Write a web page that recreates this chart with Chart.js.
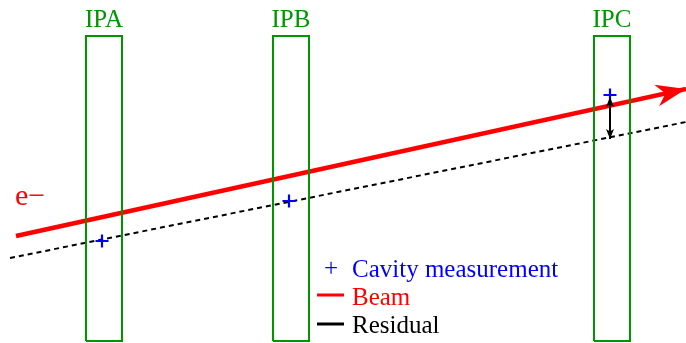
<!DOCTYPE html>
<html>
<head>
<meta charset="utf-8">
<script src="https://cdn.jsdelivr.net/npm/chart.js@4/dist/chart.umd.min.js"></script>
<style>
    html, body { margin: 0; padding: 0; background: #fff; }
    #wrap { width: 686px; height: 343px; }
</style>
</head>
<body>
<div id="wrap"><canvas id="chart"></canvas></div>
<script>
// Layout of the sketch, in drawing units (x along the beam line, y downwards)
const boxNames = ['IPA', 'IPB', 'IPC'];
const boxLeft = [86, 273, 594];
const boxRight = [122, 309, 630];
const boxTop = 36;
const boxBottom = 341;

// Beam trajectory (last point is the arrow tip)
const beamX = [16, 686];
const beamY = [236, 89];

// Straight line through the cavity readings
const fitX = [10, 686];
const fitY = [258, 122];

// Cavity measurements
const cavityX = [102, 289, 610];
const cavityY = [241, 201, 95];

// Residual arrow at IPC
const residualX = [610, 610];
const residualY = [97, 139];

const GREEN = 'rgb(0,150,0)';
const RED = '#ff0000';
const BLUE = '#0000ff';
const SERIF = '"Liberation Serif", "DejaVu Serif", serif';

const toPoints = (xs, ys) => xs.map((x, i) => ({ x: x, y: ys[i] }));

function boxPoints(i) {
    return [
        { x: boxLeft[i], y: boxBottom },
        { x: boxLeft[i], y: boxTop },
        { x: boxRight[i], y: boxTop },
        { x: boxRight[i], y: boxBottom },
        { x: boxLeft[i], y: boxBottom }
    ];
}

// draws a filled arrow head with its tip at (x1, y1), coming from (x0, y0)
function arrowHead(ctx, x0, y0, x1, y1, len, half, notch, color) {
    const dx = x1 - x0, dy = y1 - y0;
    const d = Math.hypot(dx, dy);
    const ux = dx / d, uy = dy / d;
    const nx = -uy, ny = ux;
    const bx = x1 - ux * len, by = y1 - uy * len;
    ctx.beginPath();
    ctx.moveTo(x1, y1);
    ctx.lineTo(bx + nx * half, by + ny * half);
    ctx.lineTo(x1 - ux * notch, y1 - uy * notch);
    ctx.lineTo(bx - nx * half, by - ny * half);
    ctx.closePath();
    ctx.fillStyle = color;
    ctx.fill();
}

const overlay = {
    id: 'overlay',
    afterDatasetsDraw(chart) {
        const { ctx, scales: { x, y } } = chart;
        ctx.save();
        // beam arrow head
        arrowHead(ctx,
            x.getPixelForValue(beamX[0]), y.getPixelForValue(beamY[0]),
            x.getPixelForValue(beamX[1]), y.getPixelForValue(beamY[1]),
            30, 11, 21, RED);
        // residual, arrow heads on both ends
        const rx0 = x.getPixelForValue(residualX[0]), ry0 = y.getPixelForValue(residualY[0]);
        const rx1 = x.getPixelForValue(residualX[1]), ry1 = y.getPixelForValue(residualY[1]);
        arrowHead(ctx, rx1, ry1, rx0, ry0, 10, 4, 7.5, '#000');
        arrowHead(ctx, rx0, ry0, rx1, ry1, 10, 4, 7.5, '#000');
        ctx.restore();
    },
    afterDraw(chart) {
        const { ctx, scales: { x, y } } = chart;
        ctx.save();
        ctx.textBaseline = 'alphabetic';

        // IP labels above the boxes
        ctx.font = '25px ' + SERIF;
        ctx.fillStyle = GREEN;
        ctx.textAlign = 'center';
        boxNames.forEach((name, i) => {
            const cx = x.getPixelForValue((boxLeft[i] + boxRight[i]) / 2);
            ctx.fillText(name, cx, y.getPixelForValue(boxTop - 9.5));
        });

        // electron label
        ctx.font = '30px ' + SERIF;
        ctx.fillStyle = RED;
        ctx.textAlign = 'left';
        ctx.fillText('e\u2212', x.getPixelForValue(15), y.getPixelForValue(205));

        // legend
        ctx.font = '25px ' + SERIF;
        ctx.fillStyle = BLUE;
        ctx.textAlign = 'center';
        ctx.fillText('+', x.getPixelForValue(331), y.getPixelForValue(276));
        ctx.textAlign = 'left';
        ctx.fillText('Cavity measurement', x.getPixelForValue(352), y.getPixelForValue(277));

        ctx.lineWidth = 3;
        ctx.strokeStyle = RED;
        ctx.beginPath();
        ctx.moveTo(x.getPixelForValue(317), y.getPixelForValue(295));
        ctx.lineTo(x.getPixelForValue(344), y.getPixelForValue(295));
        ctx.stroke();
        ctx.fillStyle = RED;
        ctx.fillText('Beam', x.getPixelForValue(352), y.getPixelForValue(305));

        ctx.strokeStyle = '#000';
        ctx.beginPath();
        ctx.moveTo(x.getPixelForValue(317), y.getPixelForValue(324));
        ctx.lineTo(x.getPixelForValue(344), y.getPixelForValue(324));
        ctx.stroke();
        ctx.fillStyle = '#000';
        ctx.fillText('Residual', x.getPixelForValue(352), y.getPixelForValue(333));
        ctx.restore();
    }
};

const datasets = [];
boxNames.forEach((name, i) => {
    datasets.push({
        label: name,
        data: boxPoints(i),
        showLine: true,
        borderColor: GREEN,
        borderWidth: 2,
        pointRadius: 0,
        order: 0
    });
});
datasets.push({
    label: 'Cavity measurement',
    data: toPoints(cavityX, cavityY),
    pointStyle: 'cross',
    pointRadius: 6.5,
    borderColor: BLUE,
    borderWidth: 2.2,
    order: 1
});
datasets.push({
    label: 'Residual',
    data: toPoints(residualX, residualY),
    showLine: true,
    borderColor: '#000',
    borderWidth: 2,
    pointRadius: 0,
    order: 2
});
datasets.push({
    label: 'Beam',
    data: toPoints(beamX, beamY),
    showLine: true,
    borderColor: RED,
    borderWidth: 4.5,
    pointRadius: 0,
    order: 3
});
datasets.push({
    label: 'Fit',
    data: toPoints(fitX, fitY),
    showLine: true,
    borderColor: '#000',
    borderWidth: 2,
    borderDash: [5, 4],
    pointRadius: 0,
    order: 4
});

new Chart(document.getElementById('chart'), {
    type: 'scatter',
    data: { datasets: datasets },
    options: {
        responsive: true,
        maintainAspectRatio: false,
        animation: false,
        layout: { padding: 0, autoPadding: false },
        plugins: {
            legend: { display: false },
            tooltip: { enabled: false }
        },
        scales: {
            x: { type: 'linear', min: 0, max: 686, display: false },
            y: { type: 'linear', min: 0, max: 343, reverse: true, display: false }
        }
    },
    plugins: [overlay]
});
</script>
</body>
</html>
